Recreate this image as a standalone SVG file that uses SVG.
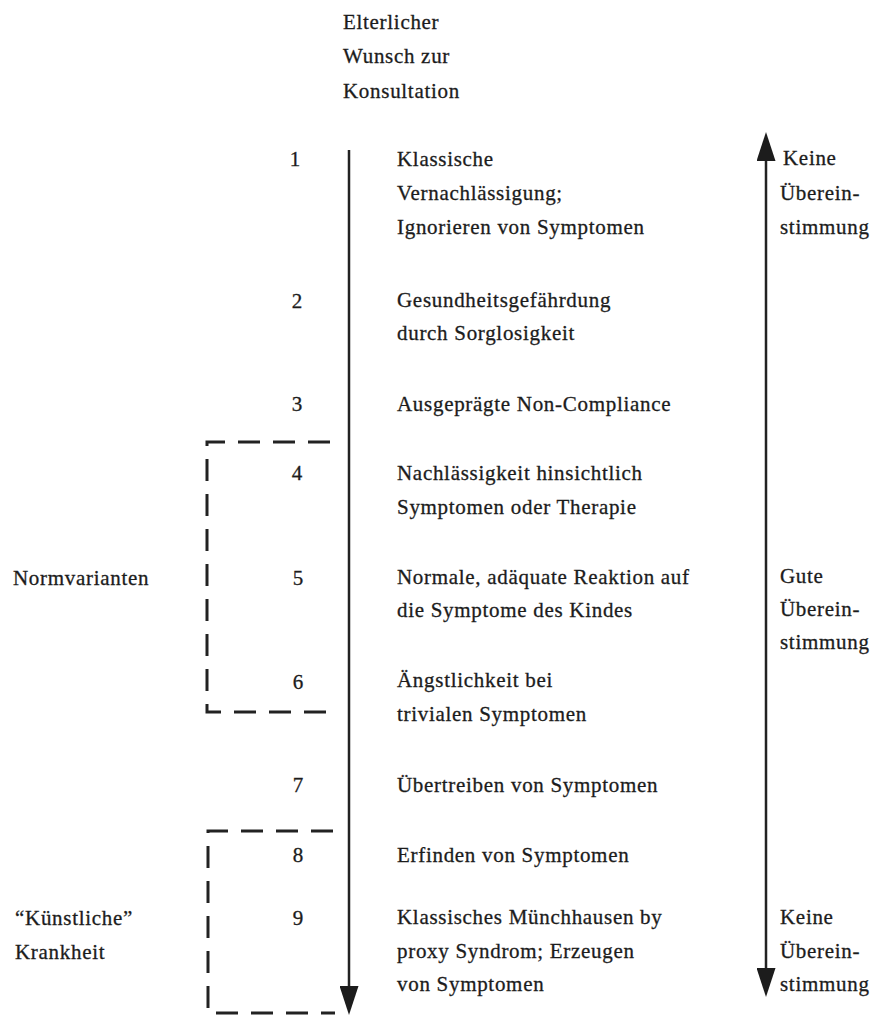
<svg xmlns="http://www.w3.org/2000/svg" width="889" height="1016" viewBox="0 0 889 1016">
<style>
  text { font-family: "Liberation Serif", "Times New Roman", serif; font-size: 21px; fill: #1c1c1c; stroke: #1c1c1c; stroke-width: 0.3; letter-spacing: 0.7px; }
  .num { text-anchor: middle; letter-spacing: 0; }
  .axis { stroke: #222; stroke-width: 2.5; fill: none; }
  .bracket { stroke: #222; stroke-width: 3; fill: none; stroke-dasharray: 22 13; }
</style>
<defs>
  <marker id="head" viewBox="0 0 29 19" refX="0" refY="9.5" markerWidth="29" markerHeight="19" markerUnits="userSpaceOnUse" orient="auto-start-reverse">
    <path d="M0,0 L29,9.5 L0,19 z" fill="#1c1c1c"/>
  </marker>
</defs>
<rect width="889" height="1016" fill="#ffffff"/>

<g id="connectors">
  <line class="axis" x1="349" y1="150" x2="349" y2="986" marker-end="url(#head)"/>
  <line class="axis" x1="766" y1="161" x2="766" y2="968" marker-start="url(#head)" marker-end="url(#head)"/>
</g>

<g id="bracket-normvarianten">
  <path class="bracket" d="M330,442 L207,442 L207,712 L330,712"/>
</g>
<g id="bracket-kuenstlich">
  <path class="bracket" d="M333,831 L208,831 L208,1013 L335,1013"/>
</g>

<g id="top-label">
  <text x="343" y="29">Elterlicher</text>
  <text x="343" y="63">Wunsch zur</text>
  <text x="343" y="98">Konsultation</text>
</g>

<g id="item1">
  <text class="num" x="295" y="166">1</text>
  <text x="397" y="166">Klassische</text>
  <text x="397" y="200">Vernachlässigung;</text>
  <text x="397" y="234">Ignorieren von Symptomen</text>
</g>
<g id="item2">
  <text class="num" x="297" y="308">2</text>
  <text x="397" y="307">Gesundheitsgefährdung</text>
  <text x="397" y="340">durch Sorglosigkeit</text>
</g>
<g id="item3">
  <text class="num" x="297" y="411">3</text>
  <text x="397" y="411">Ausgeprägte Non-Compliance</text>
</g>
<g id="item4">
  <text class="num" x="297" y="480">4</text>
  <text x="397" y="480">Nachlässigkeit hinsichtlich</text>
  <text x="397" y="514">Symptomen oder Therapie</text>
</g>
<g id="item5">
  <text class="num" x="298" y="585">5</text>
  <text x="397" y="584">Normale, adäquate Reaktion auf</text>
  <text x="397" y="617">die Symptome des Kindes</text>
</g>
<g id="item6">
  <text class="num" x="298" y="689">6</text>
  <text x="397" y="687">Ängstlichkeit bei</text>
  <text x="397" y="721">trivialen Symptomen</text>
</g>
<g id="item7">
  <text class="num" x="298" y="792">7</text>
  <text x="397" y="792">Übertreiben von Symptomen</text>
</g>
<g id="item8">
  <text class="num" x="298" y="862">8</text>
  <text x="397" y="862">Erfinden von Symptomen</text>
</g>
<g id="item9">
  <text class="num" x="298" y="925">9</text>
  <text x="397" y="924">Klassisches Münchhausen by</text>
  <text x="397" y="958">proxy Syndrom; Erzeugen</text>
  <text x="397" y="991">von Symptomen</text>
</g>

<g id="label-normvarianten">
  <text x="13" y="585">Normvarianten</text>
</g>
<g id="label-kuenstlich">
  <text x="15" y="925">“Künstliche”</text>
  <text x="15" y="959">Krankheit</text>
</g>

<g id="label-keine-top">
  <text x="783" y="165">Keine</text>
  <text x="780" y="200">Überein-</text>
  <text x="780" y="234">stimmung</text>
</g>
<g id="label-gute">
  <text x="780" y="583">Gute</text>
  <text x="780" y="616">Überein-</text>
  <text x="780" y="649">stimmung</text>
</g>
<g id="label-keine-bottom">
  <text x="780" y="924">Keine</text>
  <text x="780" y="958">Überein-</text>
  <text x="780" y="991">stimmung</text>
</g>
</svg>
